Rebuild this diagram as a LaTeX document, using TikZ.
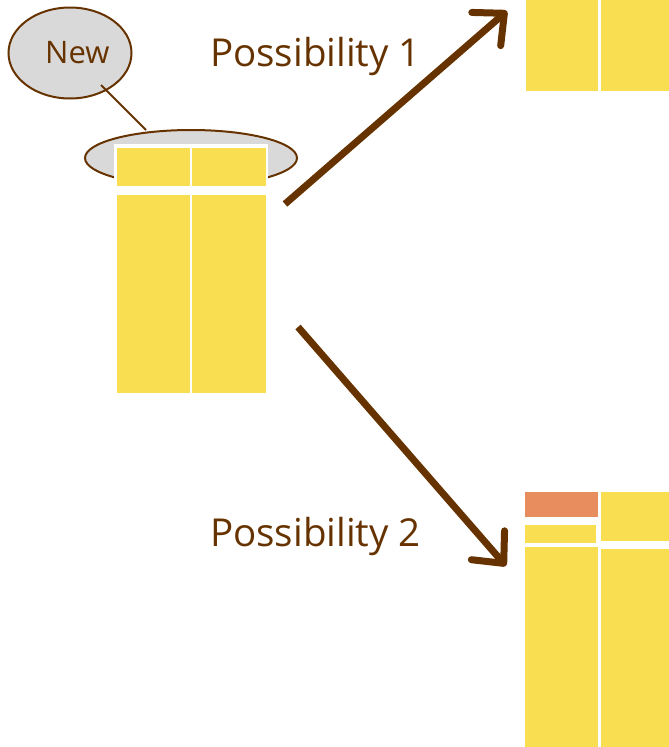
\documentclass[tikz,border=0pt]{standalone}
\usepackage{fontspec}
\setmainfont{Open Sans}
\usetikzlibrary{arrows.meta,shapes.geometric}
\definecolor{cellyellow}{HTML}{F9DE52}
\definecolor{cellorange}{HTML}{E88E5E}
\definecolor{brown}{HTML}{663300}
\definecolor{lightgrey}{HTML}{D9D9D9}
\tikzset{
  cell/.style={fill=cellyellow, draw=none, inner sep=0pt, anchor=north west},
  ocell/.style={cell, fill=cellorange},
  bubble/.style={ellipse, fill=lightgrey, draw=brown, line width=2pt, inner sep=0pt},
  label/.style={text=brown, anchor=base west, inner sep=0pt},
  bigarrow/.style={draw=brown, line width=7pt, -{Straight Barb[length=24pt,width=44pt,round]}},
}
\begin{document}
\begin{tikzpicture}[x=1pt,y=-1pt]
\useasboundingbox (0,0) rectangle (669,747);
% highlight ellipse
\node[bubble, minimum width=212pt, minimum height=56pt] (sel) at (191,158) {};
% white frame behind the new row
\node[cell, fill=white, minimum width=154pt, minimum height=47pt] (frame) at (114,144) {};
% left table
\node[cell, minimum width=73pt, minimum height=38pt] (l11) at (117,148) {};
\node[cell, minimum width=74pt, minimum height=38pt] (l12) at (192,148) {};
\node[cell, minimum width=73pt, minimum height=198pt] (l21) at (117,195) {};
\node[cell, minimum width=74pt, minimum height=198pt] (l22) at (192,195) {};
% New bubble
\node[bubble, minimum width=123pt, minimum height=91pt] (new) at (70,53) {};
\node[label, font=\fontsize{31}{36}\selectfont] (newtxt) at (45,63) {New};
\coordinate (nl1) at (101,85);
\coordinate (nl2) at (146,130);
\draw[brown, line width=1.8pt] (nl1) -- (nl2);
% labels
\node[label, font=\fontsize{38.5}{46}\selectfont] (p1) at (210,66) {Possibility 1};
\node[label, font=\fontsize{38.5}{46}\selectfont] (p2) at (210,546) {Possibility 2};
% top-right table
\node[cell, minimum width=72pt, minimum height=91pt] (t1) at (526,0) {};
\node[cell, minimum width=68pt, minimum height=91pt] (t2) at (601,0) {};
% bottom-right table
\node[ocell, minimum width=73pt, minimum height=25pt] (b11) at (525,492) {};
\node[cell, minimum width=68pt, minimum height=49pt] (b12) at (601,492) {};
\node[cell, minimum width=71pt, minimum height=18pt] (bnew) at (525,525) {};
\node[cell, minimum width=73pt, minimum height=200pt] (b21) at (525,547) {};
\node[cell, minimum width=68pt, minimum height=198pt] (b22) at (601,549) {};
% arrows
\coordinate (a1s) at (285,204);
\coordinate (a1e) at (507,11);
\coordinate (a2s) at (298,327);
\coordinate (a2e) at (506,566);
\draw[bigarrow] (a1s) -- (a1e);
\draw[bigarrow] (a2s) -- (a2e);
\end{tikzpicture}
\end{document}
